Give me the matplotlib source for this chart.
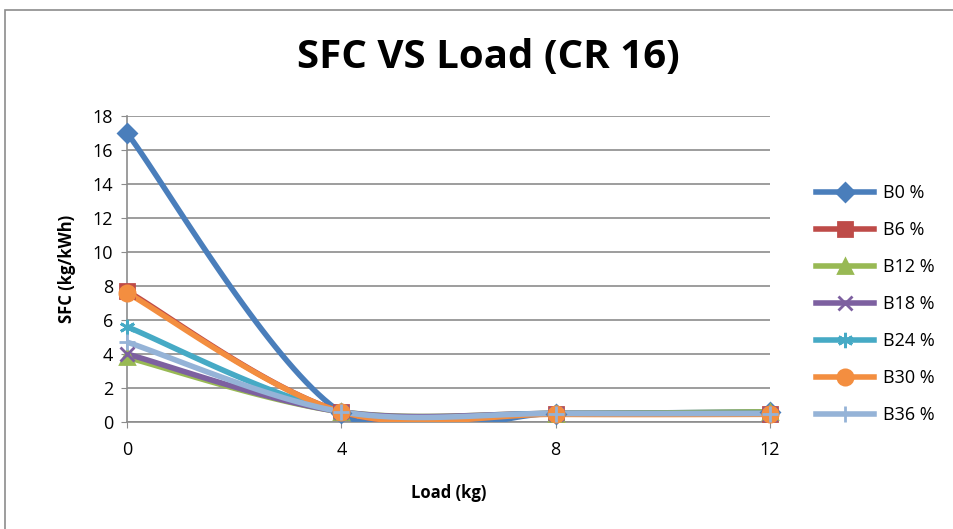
import matplotlib.pyplot as plt
import numpy as np
from matplotlib.lines import Line2D
from matplotlib.patches import Rectangle

loads = [0, 4, 8, 12]
series_names = ['B0 %', 'B6 %', 'B12 %', 'B18 %', 'B24 %', 'B30 %', 'B36 %']
b0 = [17.0, 0.55, 0.5, 0.6]
b6 = [7.7, 0.6, 0.5, 0.5]
b12 = [3.8, 0.6, 0.5, 0.6]
b18 = [4.0, 0.6, 0.5, 0.5]
b24 = [5.6, 0.6, 0.5, 0.5]
b30 = [7.6, 0.6, 0.45, 0.45]
b36 = [4.7, 0.6, 0.5, 0.5]
y_ticks = [0, 2, 4, 6, 8, 10, 12, 14, 16, 18]
x_ticks = [0, 4, 8, 12]

colors = ['#4A7EBB', '#BE4B48', '#98B954', '#7D60A0', '#46AAC5', '#F38E40', '#95B3D7']
markers = ['D', 's', '^', 'x', (6, 2, 0), 'o', '+']
msizes = [9, 10, 10, 10, 11, 11, 12]


def excel_smooth(xs, ys, n=40):
    # Bezier smoothing like Excel's smoothed scatter lines
    pts = np.column_stack([xs, ys]).astype(float)
    out = []
    for i in range(len(pts) - 1):
        p0 = pts[i - 1] if i > 0 else pts[i]
        p1 = pts[i]
        p2 = pts[i + 1]
        p3 = pts[i + 2] if i + 2 < len(pts) else pts[i + 1]
        c1 = p1 + (p2 - p0) / 6
        c2 = p2 - (p3 - p1) / 6
        t = np.linspace(0, 1, n)[:, None]
        seg = ((1 - t) ** 3) * p1 + 3 * ((1 - t) ** 2) * t * c1 + 3 * (1 - t) * t ** 2 * c2 + t ** 3 * p2
        out.append(seg if i == 0 else seg[1:])
    seg = np.vstack(out)
    return seg[:, 0], seg[:, 1]


fig = plt.figure(figsize=(9.54, 5.29), dpi=100)
plt.rcParams['font.family'] = ['Open Sans', 'DejaVu Sans']

# chart frame
fig.patches.append(Rectangle((5 / 954, -0.01), 1.0, 1 - 10 / 529 + 0.01, transform=fig.transFigure,
                             fill=False, edgecolor='#8c8c8c', linewidth=1.2))

ax = fig.add_axes([127 / 954, 1 - 422 / 529, (770 - 127) / 954, (422 - 116) / 529])

all_series = [b0, b6, b12, b18, b24, b30, b36]
for vals, c, m, ms in zip(all_series, colors, markers, msizes):
    sx, sy = excel_smooth(loads, vals)
    ax.plot(sx, np.clip(sy, 0.02, None), color=c, linewidth=4, solid_capstyle='round', zorder=3)
    ax.plot(loads, vals, linestyle='none', marker=m, markersize=ms, color=c,
            markeredgecolor=c, markeredgewidth=2, zorder=4, clip_on=False)

ax.set_xlim(0, 12)
ax.set_ylim(0, 18)
ax.set_xticks(x_ticks)
ax.set_yticks(y_ticks)
ax.yaxis.grid(True, color='#8c8c8c', linewidth=1.2)
ax.set_axisbelow(True)
for s in ['top', 'right']:
    ax.spines[s].set_visible(False)
for s in ['left', 'bottom']:
    ax.spines[s].set_color('#8c8c8c')
    ax.spines[s].set_linewidth(1.2)
ax.tick_params(axis='both', length=4, color='#8c8c8c', labelsize=13, pad=6)
ax.tick_params(axis='x', pad=10)

ax.set_xlabel('Load (kg)', fontsize=12, fontweight='bold', labelpad=18)
ax.set_ylabel('SFC (kg/kWh)', fontsize=12, fontweight='bold', labelpad=12)
fig.text(488 / 954, 1 - 58 / 529, 'SFC VS Load (CR 16)', fontsize=29, fontweight='bold',
         ha='center', va='center')

handles = [Line2D([0], [0], color=c, linewidth=4, marker=m, markersize=ms,
                  markeredgecolor=c, markeredgewidth=2)
           for c, m, ms in zip(colors, markers, msizes)]
fig.legend(handles, series_names, loc='center left', bbox_to_anchor=(800 / 954, 1 - 304 / 529),
           frameon=False, fontsize=13, handlelength=3.2, labelspacing=1.05, handletextpad=0.5)

fig.savefig('out.png', dpi=100)
